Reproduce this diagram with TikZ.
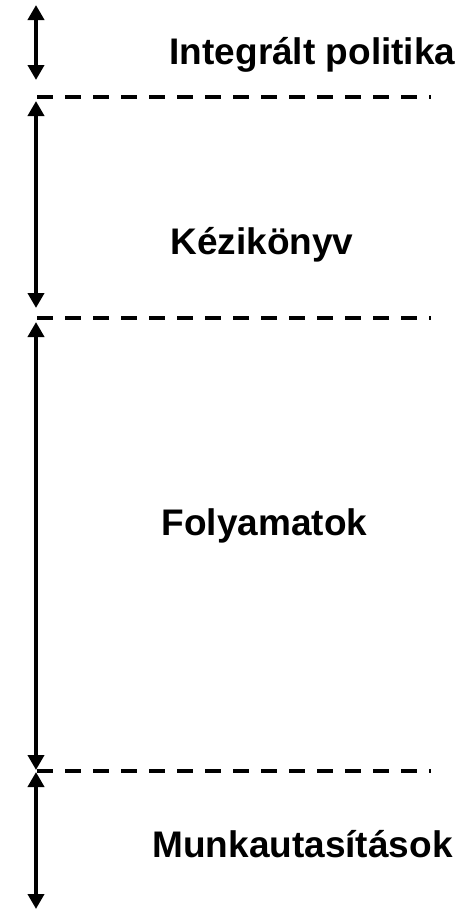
\documentclass[tikz,border=0pt]{standalone}
\usepackage{fontspec}
\setmainfont{Liberation Sans}
\usetikzlibrary{arrows.meta}
\tikzset{
  span/.style={line width=4pt, {Triangle[width=16pt,length=15pt]}-{Triangle[width=16pt,length=15pt]}, shorten <=0pt, shorten >=0pt},
  divider/.style={line width=3.5pt, dash pattern=on 16pt off 12pt},
  label/.style={inner sep=0pt, anchor=base, font=\fontsize{37pt}{42pt}\selectfont\bfseries}
}
\begin{document}
\begin{tikzpicture}[x=1pt,y=-1pt]
\useasboundingbox (0,0) rectangle (466,911);
% arrow endpoints
\coordinate (a1t) at (36,5);
\coordinate (a1b) at (36,80);
\coordinate (a2t) at (36,101);
\coordinate (a2b) at (36,308);
\coordinate (a3t) at (36,322);
\coordinate (a3b) at (36,770);
\coordinate (a4t) at (36,772);
\coordinate (a4b) at (36,909);
% divider endpoints
\coordinate (d1l) at (37,97);
\coordinate (d1r) at (431,97);
\coordinate (d2l) at (37,318);
\coordinate (d2r) at (431,318);
\coordinate (d3l) at (37,771);
\coordinate (d3r) at (431,771);

\draw[divider] (d1l) -- (d1r);
\draw[divider] (d2l) -- (d2r);
\draw[divider] (d3l) -- (d3r);

\draw[span] (a1t) -- (a1b);
\draw[span] (a2t) -- (a2b);
\draw[span] (a3t) -- (a3b);
\draw[span] (a4t) -- (a4b);

\node[label] (t1) at (312.5,64) {Integrált politika};
\node[label] (t2) at (262,254) {Kézikönyv};
\node[label] (t3) at (264.5,535) {Folyamatok};
\node[label] (t4) at (302.5,857) {Munkautasítások};
\end{tikzpicture}
\end{document}
